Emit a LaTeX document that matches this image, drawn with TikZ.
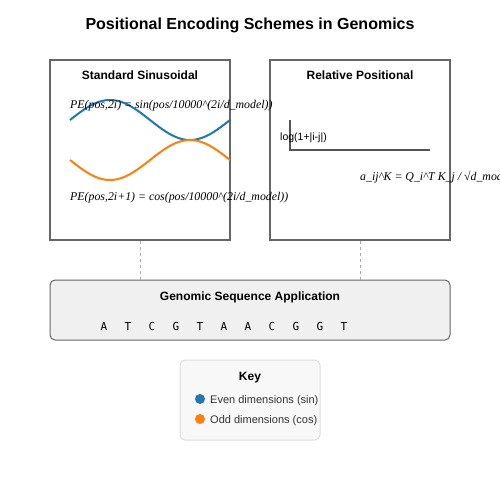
\documentclass[tikz,border=0pt]{standalone}
\usepackage{fontspec}
\setmainfont{Liberation Sans}
\newfontfamily\serifit{Liberation Serif}
\newfontfamily\monof{DejaVu Sans Mono}
\definecolor{sinblue}{HTML}{1F77B4}
\definecolor{cosorange}{HTML}{FF7F0E}
\definecolor{edge}{HTML}{666666}
\definecolor{axisgray}{HTML}{555555}
\definecolor{appfill}{HTML}{F0F0F0}
\definecolor{keyfill}{HTML}{F8F8F8}
\definecolor{keyedge}{HTML}{DDDDDD}
\definecolor{dashgray}{HTML}{AAAAAA}
\definecolor{txt}{HTML}{333333}
\tikzset{
  panel/.style={draw=edge, line width=1.2pt, minimum width=180pt, minimum height=180pt, inner sep=0pt},
  appbox/.style={draw=edge, fill=appfill, line width=1pt, rounded corners=5pt, minimum width=400pt, minimum height=60pt, inner sep=0pt},
  keybox/.style={draw=keyedge, fill=keyfill, line width=1pt, rounded corners=5pt, minimum width=140pt, minimum height=80pt, inner sep=0pt},
  boxtitle/.style={font=\fontsize{12}{14}\selectfont\bfseries, anchor=base, inner sep=0pt},
  formula/.style={font=\serifit\itshape\fontsize{11.85}{14}\selectfont, anchor=base west, inner sep=0pt},
  base/.style={font=\monof\fontsize{11}{13}\selectfont, anchor=base, inner sep=0pt},
  keytext/.style={font=\fontsize{11}{13}\selectfont, text=txt, anchor=base west, inner sep=0pt},
  connector/.style={draw=dashgray, line width=1pt, dash pattern=on 3pt off 3pt},
}
\begin{document}
\begin{tikzpicture}[x=1pt, y=-1pt]
\useasboundingbox (0,0) rectangle (500,500);
\fill[white] (0,0) rectangle (500,500);
\node[font=\fontsize{16}{19}\selectfont\bfseries, anchor=base, inner sep=0pt] (title) at (250,30) {Positional Encoding Schemes in Genomics};

% panels
\node[panel] (std) at (140,150) {};
\node[panel] (rel) at (360,150) {};
\node[boxtitle] (stdt) at (140,80) {Standard Sinusoidal};
\node[boxtitle] (relt) at (360,80) {Relative Positional};

% waves
\draw[sinblue, line width=2pt] plot[domain=70:230, samples=80, smooth] (\x, {120-20*sin(2.25*(\x-70))});
\draw[cosorange, line width=2pt] plot[domain=70:230, samples=80, smooth] (\x, {160+20*sin(2.25*(\x-70))});
\node[formula] (f1) at (70,109) {PE(pos,2i) = sin(pos/10000\^{}(2i/d\_model))};
\node[formula] (f2) at (70,200) {PE(pos,2i+1) = cos(pos/10000\^{}(2i/d\_model))};

% relative
\coordinate (ytop) at (290,120);
\coordinate (orig) at (290,150);
\coordinate (xend) at (430,150);
\draw[axisgray, line width=2pt] (ytop) -- (orig) -- (xend);
\node[font=\fontsize{10.5}{12}\selectfont, anchor=base west, inner sep=0pt] (logt) at (280,140) {log(1+|i-j|)};
\node[formula] (f3) at (360,180) {a\_ij\^{}K = Q\_i\^{}T K\_j / √d\_model};

% application
\node[appbox] (app) at (250,310) {};
\node[boxtitle] (appt) at (250,300) {Genomic Sequence Application};
\foreach \b [count=\i from 0] in {A,T,C,G,T,A,A,C,G,G,T} {
  \node[base] (b\i) at ({104+24*\i},330) {\b};
}

% connectors
\draw[connector] (std.south) -- (std.south |- app.north);
\draw[connector] (rel.south) -- (rel.south |- app.north);

% key
\node[keybox] (key) at (250,400) {};
\node[boxtitle] (keyt) at (250,380) {Key};
\node[circle, fill=sinblue, minimum size=10pt, inner sep=0pt] (kb) at (200,399) {};
\node[circle, fill=cosorange, minimum size=10pt, inner sep=0pt] (ko) at (200,419) {};
\node[keytext] (kbt) at (210,403) {Even dimensions (sin)};
\node[keytext] (kot) at (210,423) {Odd dimensions (cos)};
\end{tikzpicture}
\end{document}
